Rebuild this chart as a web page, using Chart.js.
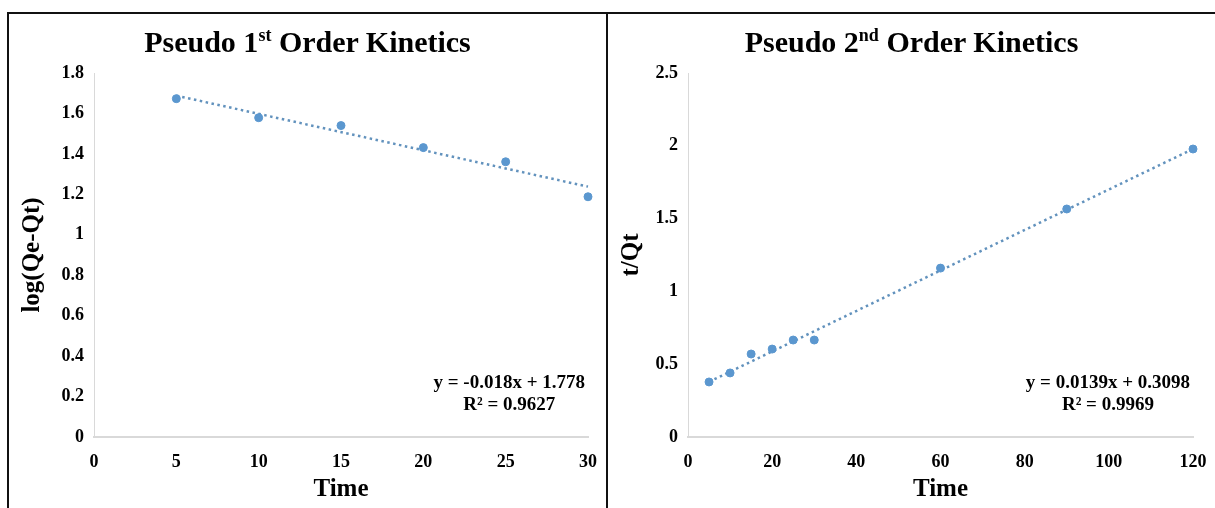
<!DOCTYPE html>
<html lang="en">
<head>
    <meta charset="UTF-8">
    <title>Pseudo Order Kinetics</title>
    <style>
        body {
            margin: 0;
            background-color: #fff;
            font-family: "Liberation Serif", serif;
        }
        .frame {
            position: absolute;
            left: 7px;
            top: 12px;
            width: 1208px;
            height: 496px;
            border-top: 2px solid #111;
            border-left: 2px solid #111;
        }
        .panel {
            position: absolute;
            top: 0;
            height: 494px;
        }
        #panel1 { left: 0; width: 597px; }
        #panel2 { left: 597px; width: 607px; border-left: 2px solid #111; }
        .title {
            position: absolute;
            top: 11px;
            left: 0;
            width: 100%;
            text-align: center;
            font-weight: bold;
            font-size: 30px;
            color: #000;
        }
        .title sup {
            font-size: 18px;
            vertical-align: 11px;
            line-height: 0;
        }
        canvas {
            position: absolute;
            left: 0;
            top: 0;
        }
    </style>
    <script src="https://cdn.jsdelivr.net/npm/chart.js"></script>
</head>
<body>
<div class="frame">
    <div class="panel" id="panel1">
        <canvas id="chart1"></canvas>
        <div class="title">Pseudo 1<sup>st</sup> Order Kinetics</div>
    </div>
    <div class="panel" id="panel2">
        <canvas id="chart2"></canvas>
        <div class="title">Pseudo 2<sup>nd</sup> Order Kinetics</div>
    </div>
</div>

<script>
    // Pseudo 1st order data
    const time1 = [5, 10, 15, 20, 25, 30];
    const logQ = [1.673, 1.579, 1.54, 1.431, 1.361, 1.188];
    const trend1X = [5, 30];
    const trend1Y = [1.688, 1.238];
    const eq1 = ['y = -0.018x + 1.778', 'R\u00B2 = 0.9627'];

    // Pseudo 2nd order data
    const time2 = [5, 10, 15, 20, 25, 30, 60, 90, 120];
    const tQt = [0.378, 0.44, 0.57, 0.604, 0.666, 0.666, 1.16, 1.566, 1.978];
    const trend2X = [5, 120];
    const trend2Y = [0.379, 1.978];
    const eq2 = ['y = 0.0139x + 0.3098', 'R\u00B2 = 0.9969'];

    const serif = '"Liberation Serif", "Times New Roman", serif';
    const dotColor = '#5b97cf';
    const axisGray = '#d9d9d9';

    // writes the trendline equation in the lower right of the plot
    const equationPlugin = {
        id: 'equation',
        afterDraw(chart, args, opts) {
            const ctx = chart.ctx;
            const area = chart.chartArea;
            ctx.save();
            ctx.font = 'bold 19px ' + serif;
            ctx.fillStyle = '#000';
            ctx.textBaseline = 'middle';
            ctx.textAlign = 'right';
            const x = area.right - opts.dx;
            ctx.fillText(opts.lines[0], x, area.bottom - 54);
            const w = ctx.measureText(opts.lines[0]).width;
            ctx.textAlign = 'center';
            ctx.fillText(opts.lines[1], x - w / 2, area.bottom - 32);
            ctx.restore();
        }
    };

    // Excel style numbers: 1 instead of 1.0
    function fmt(v) {
        return String(Number(v.toFixed(2)));
    }

    function makeChart(id, w, xs, ys, tx, ty, xMax, xStep, yMax, yStep, yTitle, yWidth, rightPad, eq) {
        const el = document.getElementById(id);
        el.width = w;
        el.height = 494;
        el.style.width = w + 'px';
        el.style.height = '494px';
        return new Chart(el.getContext('2d'), {
            type: 'scatter',
            data: {
                datasets: [
                    {
                        label: 'data',
                        data: xs.map((x, i) => ({ x: x, y: ys[i] })),
                        backgroundColor: dotColor,
                        borderColor: dotColor,
                        pointRadius: 4,
                        clip: false,
                        order: 1
                    },
                    {
                        label: 'trend',
                        type: 'line',
                        data: tx.map((x, i) => ({ x: x, y: ty[i] })),
                        borderColor: '#6292bd',
                        borderWidth: 2.5,
                        borderDash: [2.5, 3.5],
                        pointRadius: 0,
                        fill: false,
                        clip: false,
                        order: 2
                    }
                ]
            },
            options: {
                responsive: false,
                animation: false,
                events: [],
                layout: { padding: { top: 59, right: rightPad, left: 0, bottom: 0 } },
                plugins: {
                    legend: { display: false },
                    tooltip: { enabled: false },
                    equation: { lines: eq, dx: 3 }
                },
                scales: {
                    x: {
                        type: 'linear',
                        min: 0,
                        max: xMax,
                        grid: { display: false, drawTicks: false },
                        border: { display: true, color: axisGray, width: 2 },
                        ticks: {
                            stepSize: xStep,
                            color: '#000',
                            padding: 15,
                            maxRotation: 0,
                            callback: fmt,
                            font: { family: serif, size: 18, weight: 'bold' }
                        },
                        title: {
                            display: true,
                            text: 'Time',
                            color: '#000',
                            padding: { top: 2, bottom: 3 },
                            font: { family: serif, size: 25, weight: 'bold' }
                        },
                        afterFit(scale) {
                            scale.height = 71;
                            scale.paddingLeft = 0;
                            scale.paddingRight = 0;
                        }
                    },
                    y: {
                        min: 0,
                        max: yMax,
                        grid: { display: false, drawTicks: false },
                        border: { display: true, color: axisGray, width: 1 },
                        ticks: {
                            stepSize: yStep,
                            color: '#000',
                            padding: 10,
                            callback: fmt,
                            font: { family: serif, size: 18, weight: 'bold' }
                        },
                        title: {
                            display: true,
                            text: yTitle,
                            color: '#000',
                            padding: { top: 9, bottom: 0 },
                            font: { family: serif, size: 25, weight: 'bold' }
                        },
                        afterFit(scale) { scale.width = yWidth; }
                    }
                }
            },
            plugins: [equationPlugin]
        });
    }

    makeChart('chart1', 597, time1, logQ, trend1X, trend1Y, 30, 5, 1.8, 0.2, 'log(Qe-Qt)', 85, 18, eq1);
    makeChart('chart2', 607, time2, tQt, trend2X, trend2Y, 120, 20, 2.5, 0.5, 't/Qt', 80, 22, eq2);
</script>
</body>
</html>
